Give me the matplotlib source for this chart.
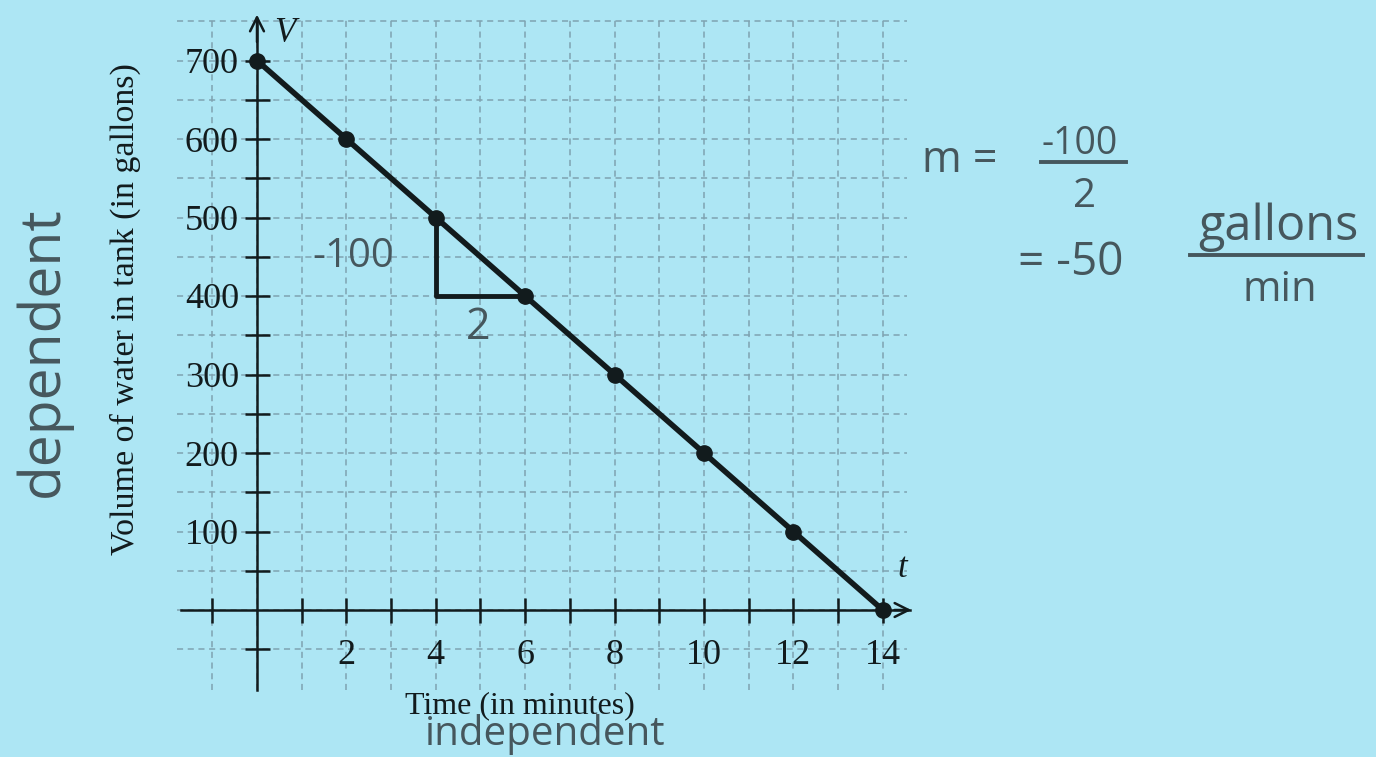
import numpy as np
import matplotlib
matplotlib.use("Agg")
import matplotlib.pyplot as plt

# ------------------------------------------------------------
# Volume of water in a draining tank, with handwritten slope notes
# ------------------------------------------------------------

# data
t_min = [0, 2, 4, 6, 8, 10, 12, 14]
volume = [700, 600, 500, 400, 300, 200, 100, 0]

# slope triangle drawn by hand (rise -100 over run 2)
tri_t = [4, 4, 6]
tri_v = [500, 400, 400]

x_tick_pos = [-1, 1, 2, 3, 4, 5, 6, 7, 8, 9, 10, 11, 12, 13, 14]
x_tick_labels = ["", "", "2", "", "4", "", "6", "", "8", "", "10", "", "12", "", "14"]
y_tick_pos = [-50, 50, 100, 150, 200, 250, 300, 350, 400, 450, 500, 550, 600, 650, 700]
y_tick_labels = ["", "", "100", "", "200", "", "300", "", "400", "", "500", "", "600", "", "700"]

BG = "#ade6f4"
INK = "#121b1d"
GRID = "#7fa3b1"
PEN = "#46575d"

plt.rcParams["font.family"] = ["Liberation Serif", "DejaVu Serif"]
HAND = ["Open Sans", "DejaVu Sans"]

fig = plt.figure(figsize=(13.76, 7.57), dpi=100, facecolor=BG)
ax = fig.add_axes([0, 0, 1, 1], facecolor=BG)

# pixel -> data mapping: origin at (257, 610), 44.7 px/min, 0.785 px/gallon
ax.set_xlim(-257 / 44.7, (1376 - 257) / 44.7)
ax.set_ylim(-(757 - 610) / 0.785, 610 / 0.785)

# dashed graph-paper grid (limited area, like the textbook figure)
grid_t = np.arange(-1, 15)
grid_v = np.arange(-50, 751, 50)
ax.vlines(grid_t, -102, 756, colors=GRID, linestyles=(0, (4, 3)), lw=1.1, zorder=1)
ax.hlines(grid_v, -1.8, 14.55, colors=GRID, linestyles=(0, (4, 3)), lw=1.1, zorder=1)

# axes through the origin
for side in ["top", "right"]:
    ax.spines[side].set_visible(False)
ax.spines["left"].set_position(("data", 0))
ax.spines["bottom"].set_position(("data", 0))
ax.spines["left"].set_bounds(-102, 752)
ax.spines["bottom"].set_bounds(-1.7, 14.6)
for side in ["left", "bottom"]:
    ax.spines[side].set_linewidth(1.8)
    ax.spines[side].set_color(INK)
    ax.spines[side].set_zorder(3)

ax.set_xticks(x_tick_pos)
ax.set_xticklabels(x_tick_labels)
ax.set_yticks(y_tick_pos)
ax.set_yticklabels(y_tick_labels)
ax.tick_params(axis="both", direction="inout", length=18, width=1.8,
               colors=INK, labelsize=26)
ax.tick_params(axis="x", pad=12)
ax.tick_params(axis="y", pad=4)

# arrow heads
ax.annotate("", xy=(14.7, 0), xytext=(14.2, 0),
            arrowprops=dict(arrowstyle="->", color=INK, lw=1.8, mutation_scale=25))
ax.annotate("", xy=(0, 762), xytext=(0, 720),
            arrowprops=dict(arrowstyle="->", color=INK, lw=1.8, mutation_scale=25))
ax.text(0.63, 735, "V", fontsize=25, style="italic", color=INK, ha="center", va="center")
ax.text(14.43, 53, "t", fontsize=25, style="italic", color=INK, ha="center", va="center")

# the line
ax.plot(t_min, volume, color=INK, lw=4, marker="o", ms=11, zorder=5, clip_on=False)

# axis titles
ax.text(-2.95, 383, "Volume of water in tank (in gallons)", fontsize=24.5, color=INK,
        rotation=90, ha="center", va="center")
ax.text(5.88, -122, "Time (in minutes)", fontsize=23, color=INK, ha="center", va="center")

# handwriting
ax.plot(tri_t, tri_v, color=INK, lw=3.5, solid_capstyle="round", zorder=4)
ax.text(2.15, 450, "-100", fontsize=29, color=PEN, family=HAND, ha="center", va="center")
ax.text(4.94, 360, "2", fontsize=31, color=PEN, family=HAND, ha="center", va="center")
ax.text(-4.79, 329, "dependent", fontsize=41, color=PEN, family=HAND,
        rotation=90, ha="center", va="center")
ax.text(6.44, -172, "independent", fontsize=29, color=PEN, family=HAND,
        ha="center", va="baseline")

ax.text(15.73, 572, "m =", fontsize=31, color=PEN, family=HAND, ha="center", va="center")
ax.text(18.4, 593, "-100", fontsize=27, color=PEN, family=HAND, ha="center", va="center")
ax.plot([17.55, 19.45], [571, 571], color=PEN, lw=2.8)
ax.text(18.52, 527, "2", fontsize=29, color=PEN, family=HAND, ha="center", va="center")
ax.text(18.21, 442, "= -50", fontsize=33, color=PEN, family=HAND, ha="center", va="center")
ax.text(22.84, 488, "gallons", fontsize=35, color=PEN, family=HAND, ha="center", va="center")
ax.plot([20.87, 24.74], [452, 452], color=PEN, lw=2.8)
ax.text(22.89, 408, "min", fontsize=30, color=PEN, family=HAND, ha="center", va="center")

fig.savefig("out.png", dpi=100, facecolor=BG)
